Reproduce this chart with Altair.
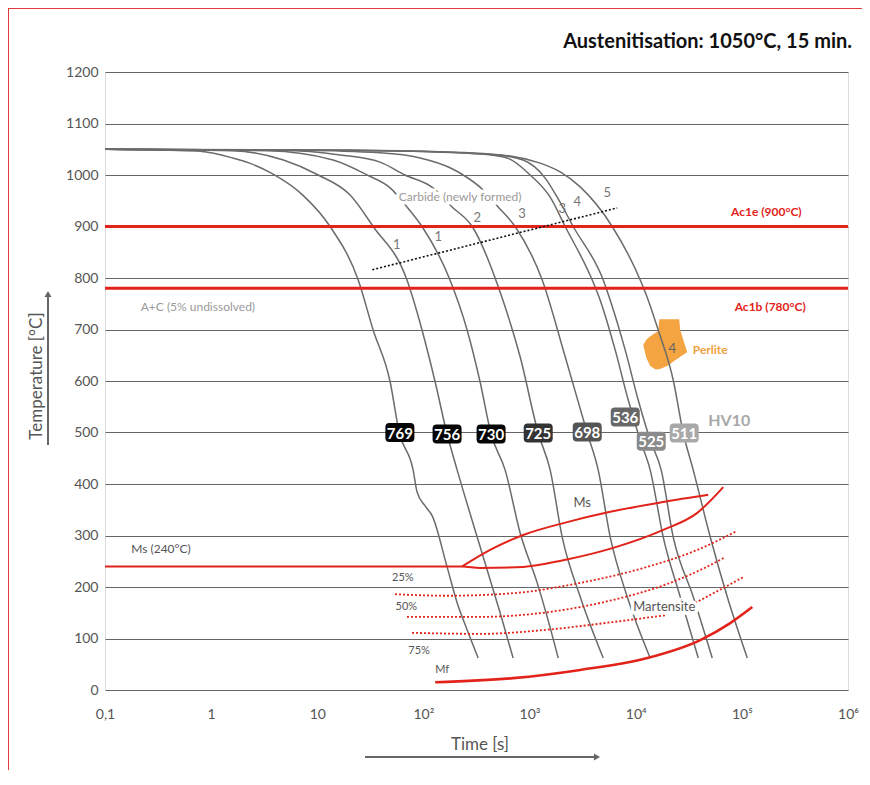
import altair as alt
import pandas as pd

FONT = "Lato"
RED = "#e2231a"
GRAY_LINE = "#6b6b6b"

# ---------------- data ----------------
# cooling curves: time [s] and temperature [°C]
c1_t = [0.1, 0.41, 0.79, 1.6, 2.3, 3.8, 7.3, 13.2, 24.3, 33.6, 48.6, 59, 80, 87, 104, 121, 167, 208, 258, 328]
c1_T = [1050, 1048, 1046, 1033, 1023, 1002, 961, 900, 796, 699, 598, 501, 427, 385, 357, 338, 239, 169, 117, 62]
c2_t = [0.1, 1.6, 4.8, 10.2, 20.4, 33.6, 70, 97, 129, 167, 208, 321, 425, 528, 700]
c2_T = [1050, 1047, 1029, 1000, 961, 900, 796, 699, 598, 497, 427, 297, 214, 150, 62]
c3_t = [0.1, 3.4, 14.1, 29.5, 48.6, 70, 97, 178, 258, 342, 434, 589, 815, 1180, 1466, 1862]
c3_T = [1050, 1047, 1029, 1000, 975, 938, 900, 796, 699, 598, 497, 427, 305, 208, 142, 62]
c4_t = [0.1, 4.5, 16.4, 39, 67, 123, 186, 288, 552, 815, 1206, 1564, 2029, 2999, 4940]
c4_T = [1050, 1048, 1039, 1025, 1000, 975, 938, 900, 761, 647, 499, 427, 297, 181, 62]
c5_t = [0.1, 6.9, 39, 93, 178, 237, 365, 506, 731, 1315, 2166, 3493, 4433, 5752, 8321, 13700]
c5_T = [1050, 1048, 1043, 1033, 1014, 1000, 971, 938, 900, 796, 647, 499, 427, 297, 181, 62]
c6_t = [0.1, 13.2, 116, 342, 615, 1014, 1564, 2166, 3893, 4627, 6413, 8501, 11030, 13700, 18160, 26250, 38850]
c6_T = [1050, 1048, 1045, 1041, 1033, 1000, 957, 900, 796, 757, 660, 563, 485, 427, 297, 181, 62]
c7_t = [0.1, 16.4, 144, 425, 870, 1403, 1820, 2576, 4940, 5752, 7967, 10560, 13700, 17390, 22560, 34840, 52590]
c7_T = [1050, 1048, 1045, 1041, 1029, 994, 957, 900, 796, 757, 660, 563, 485, 427, 297, 181, 62]
c8_t = [0.1, 25.3, 222, 656, 1259, 1942, 2999, 6008, 11030, 13120, 16300, 22560, 28040, 34840, 50360, 72850, 112500]
c8_T = [1050, 1048, 1043, 1037, 1023, 1006, 977, 900, 796, 757, 699, 602, 499, 427, 297, 181, 62]

# hardness HV10 boxes
hv_vals = ["769", "756", "730", "725", "698", "536", "525", "511"]
hv_t = [60, 167, 434, 1206, 3493, 7967, 14000, 28640]
hv_T = [500, 497, 497, 499, 501, 530, 483, 499]
HV_COLORS = ["#050505", "#050505", "#050505", "#333333", "#555555", "#676767", "#8a8a8a", "#a8a8a8"]

# carbide numbers on curves
carb_lab = ["1", "1", "2", "3", "3", "4", "5"]
carb_t = [56, 138, 321, 851, 2029, 2812, 5383]
carb_T = [864, 880, 917, 924, 934, 948, 965]
# carbide (newly formed) dotted line
carb_line_t = [33, 6696]
carb_line_T = [816, 936]

# Ac lines
ac_T = [900, 780]

# Ms start line (lower branch incl. 240 °C plateau) and upper branch
ms_low_t = [0.1, 232, 342, 870, 2074, 6141, 18160, 38020, 66800]
ms_low_T = [240, 240, 237, 239, 252, 276, 311, 344, 394]
ms_up_t = [232, 425, 870, 2262, 5752, 18160, 48230]
ms_up_T = [240, 272, 301, 326, 346, 365, 379]
# martensite fractions (dotted)
m25_t = [54, 167, 700, 2999, 12830, 38020, 86700]
m25_T = [186, 183, 188, 208, 239, 272, 307]
m50_t = [70, 342, 1466, 6141, 21130, 40570, 69800]
m50_T = [142, 142, 151, 175, 208, 233, 258]
m75a_t = [78, 342, 1466, 6141, 19000]
m75a_T = [111, 109, 117, 132, 145]
m75b_t = [36390, 103100]
m75b_T = [169, 219]
# Mf
mf_t = [129, 700, 2999, 12830, 40570, 77780, 125400]
mf_T = [15, 23, 39, 62, 97, 130, 161]

# perlite region (upper / lower boundary)
perl_t = [11780, 12570, 13700, 15280, 16300, 16680, 19820, 24600, 25700, 26250, 30560]
perl_top = [670, 680, 687, 693, 697, 720, 720, 720, 720, 699, 656]
perl_bot = [670, 645, 629, 623, 623, 623, 629, 643, 645, 647, 656]

# axes
X_TICKS = [0.1, 1, 10, 100, 1000, 10000, 100000, 1000000]
X_TICK_LABELS = ["0,1", "1", "10", "10²", "10³", "10⁴", "10⁵", "10⁶"]
Y_TICKS = list(range(0, 1300, 100))

# ---------------- build ----------------
curves = [(c1_t, c1_T), (c2_t, c2_T), (c3_t, c3_T), (c4_t, c4_T),
          (c5_t, c5_T), (c6_t, c6_T), (c7_t, c7_T), (c8_t, c8_T)]
rows = []
for i, (ts, Ts) in enumerate(curves):
    for t, T in zip(ts, Ts):
        rows.append({"t": t, "T": T, "s": f"c{i+1}"})
curves_df = pd.DataFrame(rows)

expr = ""
for i in range(len(X_TICKS) - 1):
    mid = (X_TICKS[i] * X_TICKS[i + 1]) ** 0.5
    expr += f"datum.value < {mid} ? '{X_TICK_LABELS[i]}' : "
expr += f"'{X_TICK_LABELS[-1]}'"

xscale = alt.Scale(type="log", domain=[0.1, 1e6], nice=False)
yscale = alt.Scale(domain=[0, 1200], nice=False, zero=False)
xaxis = alt.Axis(values=X_TICKS, labelExpr=expr, grid=False, ticks=False, domain=False,
                 title=None, labelFont=FONT, labelFontSize=14, labelColor="#555",
                 labelPadding=17, labelFlush=False, labelOverlap=False)
yaxis = alt.Axis(values=Y_TICKS, format="d", grid=True, gridColor="#666", gridWidth=1.2, ticks=False,
                 domain=False, title=None, labelFont=FONT, labelFontSize=14,
                 labelColor="#555", labelPadding=7)


def X(f="t"):
    return alt.X(f, type="quantitative", scale=xscale, axis=xaxis)


def Y(f="T"):
    return alt.Y(f, type="quantitative", scale=yscale, axis=yaxis)


def df2(ts, Ts, **extra):
    d = pd.DataFrame({"t": ts, "T": Ts})
    for k, v in extra.items():
        d[k] = v
    return d


layers = []

# perlite area
layers.append(alt.Chart(pd.DataFrame({"t": perl_t, "T": perl_top, "T2": perl_bot}))
              .mark_area(color="#f5a442", opacity=1)
              .encode(x=X(), y=Y(), y2="T2"))

# cooling curves
layers.append(alt.Chart(curves_df).mark_line(color=GRAY_LINE, strokeWidth=1.5, interpolate="monotone")
              .encode(x=X(), y=Y(), detail="s:N"))

# Ac lines
layers.append(alt.Chart(pd.DataFrame({"T": ac_T})).mark_rule(color=RED, strokeWidth=3)
              .encode(y=Y()))

# carbide dotted line
layers.append(alt.Chart(df2(carb_line_t, carb_line_T)).mark_line(color="#111", strokeWidth=1.6, strokeDash=[2, 2])
              .encode(x=X(), y=Y()))

# Ms lines
for ts, Ts in [(ms_low_t, ms_low_T), (ms_up_t, ms_up_T)]:
    layers.append(alt.Chart(df2(ts, Ts)).mark_line(color=RED, strokeWidth=2, interpolate="monotone")
                  .encode(x=X(), y=Y()))
# martensite dotted lines
for ts, Ts in [(m25_t, m25_T), (m50_t, m50_T), (m75a_t, m75a_T), (m75b_t, m75b_T)]:
    layers.append(alt.Chart(df2(ts, Ts)).mark_line(color=RED, strokeWidth=1.8, strokeDash=[2, 2],
                                                  interpolate="monotone")
                  .encode(x=X(), y=Y()))
# Mf
layers.append(alt.Chart(df2(mf_t, mf_T)).mark_line(color=RED, strokeWidth=2.6, interpolate="monotone")
              .encode(x=X(), y=Y()))

# HV boxes
BOX = ("M-0.72,-0.655L0.72,-0.655Q1,-0.655,1,-0.375L1,0.375Q1,0.655,0.72,0.655"
       "L-0.72,0.655Q-1,0.655,-1,0.375L-1,-0.375Q-1,-0.655,-0.72,-0.655Z")
hv_df = pd.DataFrame({"t": hv_t, "T": hv_T, "hv": hv_vals})
layers.append(alt.Chart(hv_df).mark_point(shape=BOX, size=841, filled=True, opacity=1, strokeWidth=0)
              .encode(x=X(), y=Y(),
                      color=alt.Color("hv:N", scale=alt.Scale(domain=hv_vals, range=HV_COLORS), legend=None)))
layers.append(alt.Chart(hv_df).mark_text(color="white", font=FONT, fontSize=15, fontWeight="bold", dy=1)
              .encode(x=X(), y=Y(), text="hv:N"))

# carbide numbers
layers.append(alt.Chart(pd.DataFrame({"t": carb_t, "T": carb_T, "lab": carb_lab}))
              .mark_text(color="#777", font=FONT, fontSize=13)
              .encode(x=X(), y=Y(), text="lab:N"))


def label(t, T, text, halo=False, **mk):
    base = dict(font=FONT, fontSize=12)
    base.update(mk)
    d = pd.DataFrame({"t": [t], "T": [T], "lab": [text]})
    out = []
    if halo:
        hb = dict(base)
        hb.update(stroke="white", strokeWidth=7, color="white")
        out.append(alt.Chart(d).mark_text(**hb).encode(x=X(), y=Y(), text="lab:N"))
    out.append(alt.Chart(d).mark_text(**base).encode(x=X(), y=Y(), text="lab:N"))
    return out


for item in [
    label(222, 957, "Carbide (newly formed)", halo=True, color="#9a9a9a"),
    label(170000, 928, "Ac1e (900°C)", color=RED, fontWeight="bold"),
    label(185000, 744, "Ac1b (780°C)", color=RED, fontWeight="bold"),
    label(0.75, 744, "A+C (5% undissolved)", color="#9a9a9a"),
    label(0.337, 274, "Ms (240°C)", color="#555"),
    label(64, 217, "25%", color="#555", fontSize=11),
    label(69, 161, "50%", color="#555", fontSize=11),
    label(91, 76, "75%", color="#555", fontSize=11),
    label(150, 39, "Mf", color="#555", fontSize=11),
    label(3135, 363, "Ms", color="#555", fontSize=13),
    label(18580, 161, "Martensite", halo=True, color="#555", fontSize=13),
    label(50360, 660, "Perlite", color="#f0a040", fontWeight="bold"),
    label(22080, 662, "4", color="#666", fontSize=13),
    label(76000, 522, "HV10", color="#a8a8a8", fontSize=16, fontWeight="bold"),
]:
    layers += item

one = pd.DataFrame({"a": [0]})
# title
layers.append(alt.Chart(one).mark_text(font=FONT, fontSize=20, fontWeight="bold", color="#111", align="right")
              .encode(x=alt.value(747), y=alt.value(-30), text=alt.value("Austenitisation: 1050°C, 15 min.")))
# axis titles with arrows
layers.append(alt.Chart(one).mark_text(font=FONT, fontSize=17, color="#555", angle=270)
              .encode(x=alt.value(-68), y=alt.value(304), text=alt.value("Temperature [°C]")))
layers.append(alt.Chart(one).mark_rule(color="#666", strokeWidth=2)
              .encode(x=alt.value(-57), y=alt.value(373), y2=alt.value(224)))
layers.append(alt.Chart(one).mark_point(shape="triangle-up", filled=True, color="#666", size=50, opacity=1)
              .encode(x=alt.value(-57), y=alt.value(222)))
layers.append(alt.Chart(one).mark_text(font=FONT, fontSize=17, color="#555")
              .encode(x=alt.value(375), y=alt.value(673), text=alt.value("Time [s]")))
layers.append(alt.Chart(one).mark_rule(color="#666", strokeWidth=2)
              .encode(x=alt.value(260), x2=alt.value(490), y=alt.value(685)))
layers.append(alt.Chart(one).mark_point(shape="triangle-right", filled=True, color="#666", size=50, opacity=1)
              .encode(x=alt.value(492), y=alt.value(685)))
# red frame
layers.append(alt.Chart(one).mark_rule(color="#e0393e", strokeWidth=1)
              .encode(x=alt.value(-96.5), y=alt.value(-64), y2=alt.value(713)))
layers.append(alt.Chart(one).mark_rule(color="#e0393e", strokeWidth=1)
              .encode(x=alt.value(-97), x2=alt.value(765), y=alt.value(-63.5)))

chart = (alt.layer(*layers)
         .properties(width=743, height=618, autosize=alt.AutoSizeParams(type="none"),
                     padding={"left": 97, "top": 64, "right": 14, "bottom": 80})
         .configure_view(stroke=None)
         .configure(background="white"))

chart.save("out.html", embed_options={"renderer": "svg", "actions": False})
